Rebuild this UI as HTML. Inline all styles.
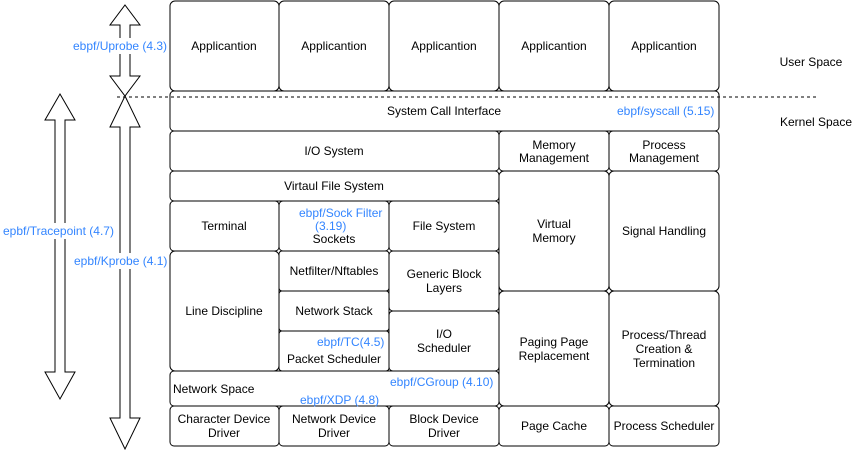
<!DOCTYPE html>
<html><head><style>
body{margin:0;background:#fff}
svg{display:block}
text{font-family:"Liberation Sans",Arial,sans-serif;font-size:12px}
.b{fill:#fff;stroke:#000;stroke-width:1}
.t{fill:#000;text-anchor:middle}
.e{fill:#3385ff}
</style></head><body>
<svg width="867" height="463" viewBox="0 0 867 463">
<g class="b">
<rect x="170" y="1" width="109" height="90" rx="5"/>
<rect x="279" y="1" width="110" height="90" rx="5"/>
<rect x="389" y="1" width="110" height="90" rx="5"/>
<rect x="499" y="1" width="110" height="90" rx="5"/>
<rect x="609" y="1" width="110" height="90" rx="5"/>
<rect x="170" y="91" width="549" height="40" rx="4"/>
<rect x="170" y="131" width="329" height="40" rx="4"/>
<rect x="499" y="131" width="110" height="40" rx="4"/>
<rect x="609" y="131" width="110" height="40" rx="4"/>
<rect x="170" y="171" width="329" height="30" rx="4"/>
<rect x="170" y="201" width="109" height="50" rx="4"/>
<rect x="279" y="201" width="110" height="50" rx="4"/>
<rect x="389" y="201" width="110" height="50" rx="4"/>
<rect x="499" y="171" width="110" height="120" rx="5"/>
<rect x="609" y="171" width="110" height="120" rx="5"/>
<rect x="170" y="251" width="109" height="120" rx="5"/>
<rect x="279" y="251" width="110" height="40" rx="3"/>
<rect x="279" y="291" width="110" height="40" rx="3"/>
<rect x="279" y="331" width="110" height="40" rx="3"/>
<rect x="389" y="251" width="110" height="60" rx="4"/>
<rect x="389" y="311" width="110" height="60" rx="4"/>
<rect x="499" y="291" width="110" height="115" rx="5"/>
<rect x="609" y="291" width="110" height="115" rx="5"/>
<rect x="170" y="371" width="329" height="35" rx="4"/>
<rect x="170" y="406" width="109" height="40" rx="4"/>
<rect x="279" y="406" width="110" height="40" rx="4"/>
<rect x="389" y="406" width="110" height="40" rx="4"/>
<rect x="499" y="406" width="110" height="40" rx="4"/>
<rect x="609" y="406" width="110" height="40" rx="4"/>
<polygon points="125,5 140,25 130,25 130,76 140,76 125,96 110,76 120,76 120,25 110,25"/>
<polygon points="125,96 140,127 130,127 130,418 140,418 125,449 110,418 120,418 120,127 110,127"/>
<polygon points="60,94 75,120 65,120 65,372 75,372 60,399 45,372 55,372 55,120 45,120"/>
</g>
<line x1="117" y1="97" x2="817" y2="97" stroke="#000" stroke-dasharray="3,3"/>
<g fill="#fff">
<rect x="72" y="38" width="96" height="16"/>
<rect x="2" y="223" width="112" height="16"/>
<rect x="73" y="253" width="95" height="16"/>
</g>
<g class="t">
<text x="224" y="50">Applicantion</text>
<text x="334" y="50">Applicantion</text>
<text x="444" y="50">Applicantion</text>
<text x="554" y="50">Applicantion</text>
<text x="664" y="50">Applicantion</text>
<text x="444" y="115">System Call Interface</text>
<text x="334" y="155">I/O System</text>
<text x="554" y="149">Memory</text><text x="554" y="162">Management</text>
<text x="664" y="149">Process</text><text x="664" y="162">Management</text>
<text x="334" y="190">Virtaul File System</text>
<text x="224" y="230">Terminal</text>
<text x="334" y="243">Sockets</text>
<text x="444" y="230">File System</text>
<text x="554" y="228">Virtual</text><text x="554" y="242">Memory</text>
<text x="664" y="235">Signal Handling</text>
<text x="224" y="315">Line Discipline</text>
<text x="334" y="275">Netfilter/Nftables</text>
<text x="334" y="315">Network Stack</text>
<text x="334" y="363">Packet Scheduler</text>
<text x="444" y="278">Generic Block</text><text x="444" y="292">Layers</text>
<text x="444" y="338">I/O</text><text x="444" y="352">Scheduler</text>
<text x="554" y="346">Paging Page</text><text x="554" y="360">Replacement</text>
<text x="664" y="339">Process/Thread</text><text x="664" y="353">Creation &amp;</text><text x="664" y="367">Termination</text>
<text x="224" y="423">Character Device</text><text x="224" y="437">Driver</text>
<text x="334" y="423">Network Device</text><text x="334" y="437">Driver</text>
<text x="444" y="423">Block Device</text><text x="444" y="437">Driver</text>
<text x="554" y="430">Page Cache</text>
<text x="664" y="430">Process Scheduler</text>
<text x="811" y="66">User Space</text>
<text x="816" y="126">Kernel Space</text>
</g>
<text x="173" y="393" fill="#000">Network Space</text>
<g class="e">
<text x="73" y="50">ebpf/Uprobe (4.3)</text>
<text x="3" y="235">epbf/Tracepoint (4.7)</text>
<text x="74" y="265">epbf/Kprobe (4.1)</text>
<text x="617" y="115">ebpf/syscall (5.15)</text>
<text x="299" y="217">ebpf/Sock Filter</text>
<text x="315" y="230">(3.19)</text>
<text x="317" y="346">ebpf/TC(4.5)</text>
<text x="390" y="386">ebpf/CGroup (4.10)</text>
<text x="300" y="404">ebpf/XDP (4.8)</text>
</g>
</svg>
</body></html>
